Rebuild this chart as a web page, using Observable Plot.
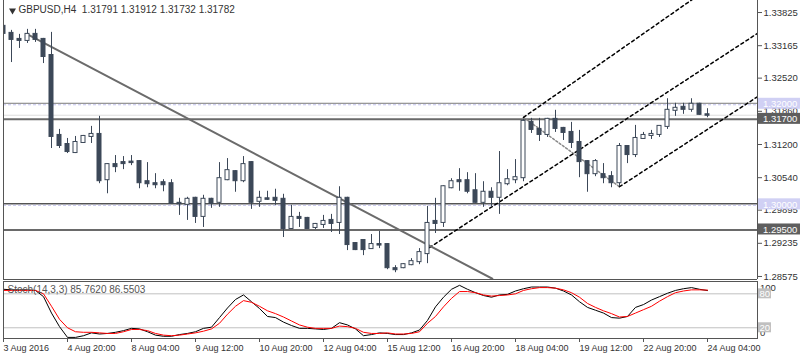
<!DOCTYPE html>
<html><head><meta charset="utf-8">
<script src="https://cdn.jsdelivr.net/npm/d3@7"></script>
<script src="https://cdn.jsdelivr.net/npm/@observablehq/plot@0.6"></script>
<style>
html,body{margin:0;padding:0;background:#fff;}
#wrap{position:relative;width:800px;height:360px;overflow:hidden;background:#fff;}
#wrap svg{position:absolute;left:0;}
</style></head><body><div id="wrap"></div>
<script>
// ---------- data ----------
const symbol = "GBPUSD,H4";
const lastOHLC = ["1.31791", "1.31912", "1.31732", "1.31782"];
const open  = [1.3355,1.3341,1.3329,1.3327,1.3339,1.3329,1.3297,1.3138,1.3120,1.3104,1.3124,1.3136,1.3140,1.3050,1.3080,1.3084,1.3085,1.3086,1.3046,1.3042,1.3044,1.3042,1.3003,1.3001,1.3013,1.2977,1.3011,1.3005,1.3050,1.3066,1.3048,1.3084,1.3007,1.3012,1.3013,1.3011,1.2953,1.2975,1.2973,1.2955,1.2961,1.2969,1.2965,1.3013,1.2923,1.2929,1.2913,1.2921,1.2921,1.2873,1.2875,1.2881,1.2887,1.2903,1.2967,1.2965,1.3034,1.3048,1.3048,1.3028,1.3005,1.3025,1.3015,1.3042,1.3050,1.3054,1.3164,1.3150,1.3140,1.3170,1.3152,1.3144,1.3124,1.3086,1.3062,1.3060,1.3056,1.3044,1.3116,1.3100,1.3132,1.3138,1.3140,1.3156,1.3188,1.3194,1.3190,1.3200,1.31791];
const high  = [1.3373,1.3347,1.3339,1.3349,1.3349,1.3331,1.3343,1.3150,1.3132,1.3136,1.3138,1.3156,1.3176,1.3082,1.3098,1.3096,1.3098,1.3088,1.3084,1.3062,1.3050,1.3050,1.3013,1.3015,1.3015,1.3019,1.3013,1.3084,1.3092,1.3068,1.3096,1.3086,1.3027,1.3027,1.3031,1.3021,1.2999,1.2985,1.2975,1.2963,1.2979,1.2981,1.3036,1.3015,1.2925,1.2929,1.2941,1.2947,1.2923,1.2879,1.2883,1.2893,1.2913,1.2997,1.3013,1.3038,1.3052,1.3072,1.3064,1.3062,1.3046,1.3034,1.3106,1.3070,1.3090,1.3170,1.3172,1.3172,1.3172,1.3188,1.3154,1.3164,1.3148,1.3088,1.3090,1.3082,1.3066,1.3122,1.3118,1.3158,1.3144,1.3148,1.3156,1.3211,1.3202,1.3202,1.3211,1.3202,1.31912];
const low   = [1.3327,1.3283,1.3311,1.3321,1.3323,1.3281,1.3112,1.3112,1.3102,1.3102,1.3122,1.3122,1.3042,1.3022,1.3064,1.3070,1.3078,1.3032,1.3034,1.3032,1.3026,1.3002,1.2979,1.2969,1.2963,1.2955,1.2993,1.2995,1.3048,1.3025,1.3044,1.2991,1.2995,1.3009,1.2999,1.2935,1.2951,1.2955,1.2952,1.2951,1.2953,1.2945,1.2941,1.2909,1.2909,1.2899,1.2913,1.2913,1.2871,1.2865,1.2873,1.2879,1.2881,1.2883,1.2943,1.2955,1.3032,1.3027,1.3022,1.3003,1.2995,1.2995,1.2981,1.3038,1.3042,1.3046,1.3142,1.3126,1.3134,1.3144,1.3128,1.3112,1.3054,1.3025,1.3056,1.3042,1.3034,1.3036,1.3082,1.3094,1.3130,1.3130,1.3134,1.3150,1.3176,1.3180,1.3184,1.3178,1.31732];
const close = [1.3341,1.3329,1.3327,1.3339,1.3329,1.3295,1.3136,1.3118,1.3106,1.3124,1.3136,1.3140,1.3048,1.3080,1.3076,1.3082,1.3084,1.3044,1.3042,1.3040,1.3040,1.3003,1.3002,1.3011,1.2977,1.3011,1.3003,1.3052,1.3068,1.3048,1.3080,1.3005,1.3013,1.3011,1.3009,1.2953,1.2975,1.2973,1.2953,1.2961,1.2967,1.2963,1.3013,1.2921,1.2911,1.2911,1.2921,1.2920,1.2875,1.2871,1.2881,1.2887,1.2905,1.2963,1.2963,1.3036,1.3046,1.3046,1.3027,1.3005,1.3025,1.3015,1.3042,1.3050,1.3054,1.3166,1.3150,1.3140,1.3170,1.3152,1.3144,1.3124,1.3086,1.3062,1.3086,1.3054,1.3044,1.3116,1.3100,1.3132,1.3138,1.3140,1.3156,1.3188,1.3192,1.3190,1.3200,1.3180,1.31782];

const stochK = [88,87,87,87,86,75,46,22,3,3,6,11,9,10,12,15,19,18,13,7,5,5,8,10,13,19,21,38,55,70,78,66,54,40,38,30,24,19,19,18,17,19,29,25,18,6,8,11,10,8,8,11,16,33,57,74,88,95,88,82,77,74,78,79,85,89,92,92,92,90,85,78,66,56,51,46,38,37,40,56,61,69,75,81,86,89,91,88,85.762];
const stochD = [86,86,86,86,86,80,58,35,20,13,12,12,11,10,10,13,17,17,15,10,7,6,7,9,11,14,18,28,44,58,68,65,58,50,45,39,32,25,21,19,19,19,23,22,19,12,10,10,11,9,9,10,13,28,40,57,72,84,84,82,78,76,77,78,80,86,89,91,91,90,87,82,74,63,56,50,45,39,40,46,52,58,67,75,82,85,87,87,86.5503];
const stochName = "Stoch(14,3,3)";
const stochLast = ["85.7620", "86.5503"];
const stochLevels = [80, 20];
const stochBounds = [100, 0];

const xTickIndex = [0, 8, 16, 24, 32, 40, 48, 56, 64, 72, 80, 88];
const xTickLabels = ["3 Aug 2016", "4 Aug 20:00", "8 Aug 04:00", "9 Aug 12:00", "10 Aug 20:00", "12 Aug 04:00", "15 Aug 12:00", "16 Aug 20:00", "18 Aug 04:00", "19 Aug 12:00", "22 Aug 20:00", "24 Aug 04:00"];
const yTicks = [1.33825, 1.33165, 1.32520, 1.31860, 1.31200, 1.30540, 1.29895, 1.29235, 1.28575];

const levelTop = 1.3200;      // thin gray horizontal line
const levelSupport = 1.3000;  // thin black horizontal line
const levelThick = [1.3170, 1.2950];
const alertLevels = [1.3200, 1.3000];
const bidPrice = 1.31782;

const trendIdx = [3.25, 61.1];
const trendPx = [1.3337, 1.2853];
const upperIdx = [65, 87.5];
const upperPx = [1.3174, 1.3424];
const middleIdx = [53.25, 94.25];
const middlePx = [1.2915, 1.3341];
const lowerIdx = [77, 94.25];
const lowerPx = [1.3036, 1.3215];
const linkIdx = [65, 77];
const linkPx = [1.3174, 1.3036];

// ---------- render ----------
const dark = "#3c4858";
const xDomain = [0, 94.25];
const yDomain = [1.28515, 1.34064];
const font = "Liberation Sans, Arial, sans-serif";
const fmt5 = d3.format(".5f");
const candles = open.map((o, i) => ({i, o, h: high[i], l: low[i], c: close[i]}));
const pts = (xs, ys) => xs.map((x, k) => ({x, y: ys[k]}));
const labelMap = new Map(xTickIndex.map((d, k) => [d, xTickLabels[k]]));

const main = Plot.plot({
  width: 800, height: 280,
  marginLeft: 3, marginRight: 43, marginTop: 0, marginBottom: 1,
  style: {fontFamily: font, fontSize: "9.5px", background: "transparent", overflow: "visible"},
  x: {domain: xDomain, axis: null},
  y: {domain: yDomain, axis: null},
  marks: [
    Plot.ruleY([bidPrice], {stroke: "#dedede"}),
    Plot.ruleY([levelTop], {stroke: "#7a7a7a", dy: -1}),
    Plot.ruleY([levelSupport], {stroke: "#000", dy: -1}),
    Plot.ruleY(alertLevels, {stroke: "#c4c4ee", strokeDasharray: "3,2", dy: 0.5}),
    Plot.ruleY(levelThick, {stroke: "#6a6a6a", strokeWidth: 2}),
    Plot.line(pts(linkIdx, linkPx), {x: "x", y: "y", stroke: "#8a8a8a", strokeDasharray: "2,2", clip: true}),
    Plot.line(pts(upperIdx, upperPx), {x: "x", y: "y", stroke: "#000", strokeDasharray: "3,3", clip: true}),
    Plot.line(pts(middleIdx, middlePx), {x: "x", y: "y", stroke: "#000", strokeDasharray: "3,3", clip: true}),
    Plot.line(pts(lowerIdx, lowerPx), {x: "x", y: "y", stroke: "#000", strokeDasharray: "3,3", clip: true}),
    Plot.line(pts(trendIdx, trendPx), {x: "x", y: "y", stroke: "#6b6b6b", strokeWidth: 2, clip: true}),
    Plot.ruleX(candles, {x: "i", y1: "l", y2: "h", stroke: dark, clip: true}),
    Plot.rect(candles, {
      x1: d => d.i - 0.25, x2: d => d.i + 0.25,
      y1: d => Math.min(d.o, d.c), y2: d => Math.max(d.o, d.c),
      fill: d => d.c >= d.o ? "#fff" : dark, stroke: dark, strokeWidth: 1,
      insetTop: -0.5, insetBottom: -0.5, clip: true
    }),
    Plot.ruleX(xDomain, {stroke: "#555"}),
    Plot.ruleY([yDomain[0]], {stroke: "#555"}),
    Plot.axisY(yTicks, {anchor: "right", tickSize: 4, tickPadding: 2, tickFormat: fmt5, fill: "#333", stroke: "#555"}),
    Plot.dot([0], {frameAnchor: "top-left", dx: 9, dy: 10, symbol: "triangle", rotate: 180, r: 2.6, fill: "#333", stroke: null}),
    Plot.text([symbol + "\u00a0 " + lastOHLC.join(" ")], {frameAnchor: "top-left", dx: 15, dy: 5, lineAnchor: "top", textAnchor: "start", fill: "#333", fontSize: 10})
  ]
});
main.style.top = "0px";
document.getElementById("wrap").appendChild(main);

// price label boxes on the right axis
const ys = main.scale("y");
const gBox = d3.select(main).append("g").attr("text-anchor", "start");
const boxes = [
  ...alertLevels.map(v => ({v, bg: "#d0d0f4"})),
  ...levelThick.map(v => ({v, bg: "#5e5e5e"}))
];
boxes.forEach(b => {
  const y = ys.apply(b.v);
  gBox.append("rect").attr("x", 758).attr("y", y - 6).attr("width", 42).attr("height", 11).attr("fill", b.bg);
  gBox.append("text").attr("x", 763).attr("y", y).attr("dy", "0.35em").attr("text-anchor", "start")
    .attr("fill", "#fff").attr("font-family", font).attr("font-size", "9.5px").text(fmt5(b.v));
});

const stoch = Plot.plot({
  width: 800, height: 80,
  marginLeft: 3, marginRight: 43, marginTop: 1, marginBottom: 22,
  style: {fontFamily: font, fontSize: "9px", background: "transparent", overflow: "visible"},
  x: {domain: xDomain, axis: null},
  y: {domain: [0, 100], range: [58.6, 2], axis: null},
  marks: [
    Plot.ruleY(stochLevels, {stroke: "#c0c0c0"}),
    Plot.line(stochK, {x: (d, i) => i, y: d => d, stroke: "#000", strokeWidth: 1, clip: true}),
    Plot.line(stochD, {x: (d, i) => i, y: d => d, stroke: "#ff0000", strokeWidth: 1, clip: true}),
    Plot.frame({stroke: "#555"}),
    Plot.text([stochName + " " + stochLast.join(" ")], {frameAnchor: "top-left", dx: 4, dy: 4, lineAnchor: "top", textAnchor: "start", fill: "#555", fontSize: 10}),
    Plot.axisX(xTickIndex, {anchor: "bottom", tickSize: 4, tickPadding: 2, tickFormat: d => labelMap.get(d), textAnchor: "start", fill: "#333", stroke: "#555"})
  ]
});
stoch.style.top = "280px";
document.getElementById("wrap").appendChild(stoch);

const ss = stoch.scale("y");
const gS = d3.select(stoch).append("g").attr("text-anchor", "start");
stochBounds.forEach(v => {
  const off = v > 50 ? 6 : -6;
  gS.append("text").attr("x", 760).attr("y", ss.apply(v) + off).attr("dy", "0.35em").attr("text-anchor", "start")
    .attr("fill", "#333").attr("font-family", font).attr("font-size", "9.5px").text(String(v));
});
stochLevels.forEach(v => {
  const y = ss.apply(v);
  gS.append("rect").attr("x", 758).attr("y", y - 5).attr("width", 13).attr("height", 10).attr("fill", "#c0c0c0");
  gS.append("text").attr("x", 759.5).attr("y", y).attr("dy", "0.35em").attr("text-anchor", "start")
    .attr("fill", "#fff").attr("font-family", font).attr("font-size", "9.5px").text(String(v));
});
</script></body></html>
